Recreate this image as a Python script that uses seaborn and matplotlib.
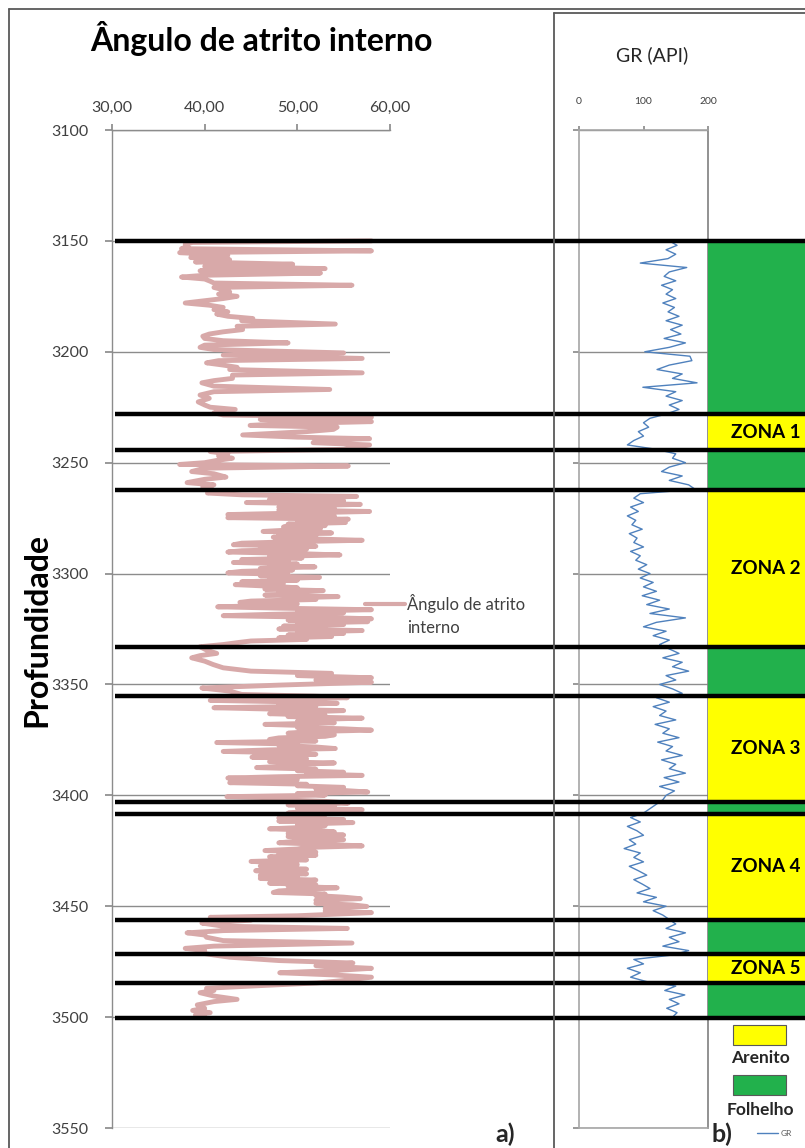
import numpy as np
import pandas as pd
import matplotlib.pyplot as plt
from matplotlib.lines import Line2D
from matplotlib.patches import Rectangle
import seaborn as sns

sns.set_theme(style="white")
plt.rcParams['font.family'] = ['Lato', 'DejaVu Sans']

# ---- data: internal friction angle log (depth in m, angle in degrees) ----
angle_depth = [
    3150.0, 3150.7, 3151.5, 3152.5, 3153.5, 3154.5, 3155.3, 3156.5, 3157.5, 3158.5,
    3159.5, 3160.5, 3161.5, 3162.5, 3163.5, 3164.5, 3165.5, 3166.3, 3167.2, 3168.2,
    3169.0, 3170.0, 3171.0, 3172.0, 3173.0, 3174.0, 3175.0, 3176.0, 3177.0, 3178.0,
    3179.0, 3180.0, 3181.0, 3182.0, 3183.0, 3184.0, 3185.0, 3186.0, 3187.5, 3188.5,
    3190.0, 3191.0, 3192.0, 3193.0, 3194.0, 3195.0, 3196.0, 3197.0, 3198.0, 3199.0,
    3200.5, 3201.5, 3203.0, 3204.0, 3205.0, 3206.0, 3207.0, 3208.0, 3209.5, 3210.5,
    3212.0, 3213.0, 3214.0, 3215.5, 3217.0, 3218.0, 3219.5, 3221.0, 3222.6, 3224.0,
    3225.0, 3226.0, 3227.5, 3228.5, 3229.5, 3230.5, 3231.5, 3232.5, 3233.2, 3234.0,
    3235.0, 3236.0, 3237.5, 3238.5, 3239.2, 3240.0, 3241.0, 3242.0, 3243.0, 3244.0,
    3245.0, 3246.0, 3247.0, 3248.0, 3249.0, 3250.0, 3250.8, 3251.5, 3252.5, 3254.0,
    3255.0, 3256.5, 3257.5, 3259.0, 3260.0, 3261.0, 3262.5, 3263.7,
    # zone 2
    3264.5, 3265.2, 3265.8, 3266.5, 3267.2, 3268.0, 3268.8, 3269.4, 3270.0, 3270.7,
    3271.3, 3272.0, 3272.7, 3273.4, 3274.1, 3274.8, 3275.5, 3276.2, 3277.0, 3277.7,
    3278.4, 3279.0, 3279.7, 3280.4, 3281.0, 3281.7, 3282.4, 3283.0, 3283.6, 3284.3,
    3285.0, 3285.6, 3286.3, 3287.0, 3287.7, 3288.4, 3289.0, 3289.7, 3290.3, 3291.0,
    3291.6, 3292.3, 3293.0, 3293.7, 3294.4, 3295.0, 3295.7, 3296.4, 3297.0, 3297.7,
    3298.4, 3299.0, 3299.7, 3300.4, 3301.0, 3301.7, 3302.4, 3303.0, 3303.7, 3304.4,
    3305.0, 3305.7, 3306.4, 3307.0, 3307.7, 3308.4, 3309.0, 3309.7, 3310.4, 3311.0,
    3311.7, 3312.4, 3313.0, 3313.7, 3314.4, 3315.0, 3315.6, 3316.3, 3317.0, 3317.7,
    3318.4, 3319.0, 3319.7, 3320.4, 3321.0, 3321.7, 3322.4, 3323.0, 3323.7, 3324.4,
    3325.0, 3325.7, 3326.4, 3327.0, 3327.7, 3328.4, 3329.0, 3329.7, 3330.4, 3331.0,
    3332.0,
    3333.0, 3334.5, 3336.0, 3337.0, 3338.0, 3339.5, 3341.0, 3342.5, 3344.0, 3345.0,
    3346.0, 3347.0, 3348.0, 3349.0, 3350.3, 3351.6, 3353.0,
    # zone 3
    3354.5, 3355.3, 3356.0, 3356.6, 3357.2, 3357.9, 3358.5, 3359.2, 3359.8, 3360.5,
    3361.2, 3361.8, 3362.5, 3363.2, 3363.9, 3364.5, 3365.2, 3365.9, 3366.6, 3367.3,
    3368.0, 3368.7, 3369.4, 3370.0, 3370.6, 3371.3, 3372.0, 3372.7, 3373.4, 3374.1,
    3374.8, 3375.5, 3376.2, 3376.9, 3377.5, 3378.2, 3378.9, 3379.5, 3380.2, 3380.9,
    3381.5, 3382.2, 3382.8, 3383.5, 3384.2, 3384.8, 3385.4, 3386.1, 3386.8, 3387.5,
    3388.2, 3388.9, 3389.6, 3390.3, 3391.0, 3391.6, 3392.2, 3392.9, 3393.6, 3394.3,
    3395.0, 3395.7, 3396.4, 3397.1, 3397.8, 3398.5, 3399.2, 3399.9, 3400.6, 3401.3,
    3402.0, 3402.7, 3403.5, 3404.3, 3405.0, 3405.8, 3406.5, 3407.2, 3408.0,
    # zone 4
    3408.7, 3409.5, 3410.2, 3410.9, 3411.6, 3412.3, 3413.0, 3413.7, 3414.4, 3415.1,
    3415.8, 3416.5, 3417.2, 3417.9, 3418.6, 3419.3, 3420.0, 3420.7, 3421.4, 3422.1,
    3422.8, 3423.5, 3424.2, 3424.9, 3425.6, 3426.3, 3427.0, 3427.7, 3428.4, 3429.1,
    3429.8, 3430.5, 3431.2, 3431.9, 3432.6, 3433.3, 3434.0, 3434.7, 3435.4, 3436.1,
    3436.8, 3437.5, 3438.2, 3438.9, 3439.6, 3440.3, 3441.0, 3441.7, 3442.4, 3443.1,
    3443.8, 3444.5, 3445.2, 3445.9, 3446.6, 3447.3, 3448.0, 3448.7, 3449.4, 3450.1,
    3450.8, 3451.5, 3452.2, 3452.9, 3453.6, 3454.3, 3455.0,
    3456.3, 3457.6, 3459.0, 3460.0, 3461.0, 3462.0, 3463.0, 3464.0, 3465.5, 3466.6,
    3468.0, 3469.0, 3470.0, 3471.0, 3472.0, 3473.0, 3474.5, 3475.6, 3476.8, 3478.0,
    3479.0, 3480.0, 3481.0, 3482.0, 3483.5, 3484.6, 3486.0, 3487.0, 3488.0, 3489.0,
    3490.5, 3492.0, 3493.0, 3494.5, 3496.0, 3497.0, 3498.0, 3499.0, 3500.0,
]
angle_vals = [
    58.0, 38.7, 37.9, 38.2, 37.5, 58.0, 37.3, 42.5, 38.5, 42.7,
    39.0, 49.5, 40.0, 53.0, 39.5, 52.5, 40.0, 37.5, 40.0, 40.6,
    41.0, 55.9, 41.0, 42.0, 42.7, 41.5, 43.5, 42.0, 40.0, 37.9,
    40.5, 42.0, 41.0, 42.5, 41.3, 42.5, 45.2, 44.0, 54.1, 43.5,
    44.1, 42.0, 40.5, 39.8, 40.0, 42.0, 49.0, 40.0, 39.5, 41.0,
    55.0, 42.0, 57.0, 41.5, 40.2, 42.0, 43.5, 42.7, 57.0, 43.0,
    43.0, 41.0, 39.7, 41.0, 53.5, 41.0, 39.5, 40.5, 39.3, 40.0,
    40.6, 43.3, 41.0, 42.0, 58.0, 46.0, 58.0, 48.0, 44.9, 54.3,
    53.9, 51.0, 44.1, 50.0, 57.8, 52.0, 51.7, 57.8, 56.4, 55.0,
    40.6, 42.5, 41.5, 43.0, 41.3, 40.0, 37.3, 55.5, 40.0, 38.6,
    41.0, 42.3, 40.0, 38.1, 41.0, 39.8, 41.0, 40.3,
    # zone 2
    44.0, 56.4, 52.0, 47.0, 55.0, 44.5, 56.8, 51.0, 48.0, 54.0,
    48.0, 57.8, 50.0, 42.5, 54.0, 42.5, 55.5, 50.0, 55.2, 49.0,
    53.0, 48.5, 52.5, 49.0, 46.3, 53.7, 48.0, 52.0, 47.4, 51.0,
    57.0, 50.0, 44.0, 43.1, 52.0, 46.0, 51.0, 44.0, 42.5, 50.0,
    54.6, 47.0, 50.5, 44.0, 49.0, 43.1, 50.0, 47.0, 51.9, 46.0,
    49.5, 44.0, 42.5, 49.0, 46.0, 52.4, 47.0, 50.0, 44.0, 48.5,
    43.3, 47.0, 50.0, 46.5, 52.8, 48.0, 51.0, 46.5, 54.4, 49.0,
    52.0, 45.0, 43.8, 50.0, 47.0, 41.4, 48.0, 58.0, 50.0, 55.0,
    47.0, 42.0, 52.0, 58.0, 49.0, 57.6, 50.0, 55.0, 48.5, 53.0,
    48.0, 57.0, 50.0, 55.0, 49.0, 53.7, 48.0, 51.0, 45.0, 43.8,
    42.0,
    39.5, 40.2, 41.3, 39.5, 38.6, 40.0, 40.9, 42.0, 45.0, 53.7,
    50.0, 58.0, 52.0, 58.0, 48.0, 39.7, 42.7,
    # zone 3
    44.0, 52.0, 55.4, 46.0, 40.6, 50.0, 54.3, 48.0, 52.0, 41.0,
    48.0, 55.0, 50.0, 47.0, 53.0, 49.0, 57.0, 51.0, 50.0, 54.0,
    46.5, 52.0, 50.0, 55.0, 58.0, 51.0, 49.0, 54.0, 53.0, 48.0,
    47.0, 52.0, 41.3, 50.0, 48.0, 52.0, 54.1, 47.0, 42.0, 50.0,
    52.0, 48.0, 45.1, 51.0, 50.0, 47.0, 54.0, 50.0, 49.0, 45.6,
    52.0, 50.0, 55.0, 51.0, 57.0, 48.0, 42.5, 50.0, 48.0, 42.7,
    51.0, 50.0, 55.0, 52.0, 55.0, 57.6, 50.0, 53.0, 42.4, 49.0,
    48.0, 53.0, 55.5, 49.0, 54.0, 50.0, 57.0, 51.0, 49.0,
    # zone 4
    53.0, 52.0, 48.0, 55.0, 48.0, 56.0, 50.0, 53.0, 51.0, 47.0,
    52.0, 54.0, 49.0, 55.0, 49.0, 53.0, 55.0, 50.0, 48.0, 53.0,
    57.0, 51.0, 50.0, 46.5, 52.0, 48.0, 52.0, 47.0, 48.0, 51.0,
    45.0, 49.0, 50.0, 46.0, 47.0, 51.0, 45.5, 49.0, 51.0, 46.0,
    50.0, 46.0, 52.0, 50.0, 47.0, 52.0, 49.0, 54.3, 51.0, 48.0,
    47.4, 53.0, 52.0, 55.0, 56.8, 52.0, 54.0, 52.0, 56.0, 57.5,
    53.0, 55.0, 53.0, 58.0, 54.0, 50.0, 40.6,
    45.0, 39.7, 42.0, 55.4, 42.0, 38.1, 40.0, 40.2, 42.0, 55.9,
    41.0, 37.9, 40.0, 39.5, 41.0, 42.7, 48.0, 56.0, 52.0, 58.0,
    54.0, 48.1, 54.0, 58.0, 55.0, 52.1, 45.0, 40.2, 41.0, 39.5,
    41.0, 43.5, 41.0, 39.2, 40.0, 38.7, 40.6, 39.0, 40.0,
]

# ---- data: gamma ray log, one reading every 2 m from 3150 to 3500 ----
gr_depth = np.arange(3150, 3501, 2)
gr_vals = [
    140, 152, 135, 150, 138, 95, 167, 140, 132, 150,
    128, 145, 135, 150, 130, 148, 138, 155, 135, 160,
    142, 158, 132, 165, 140, 102, 172, 175, 140, 121,
    160, 145, 183, 99, 150, 135, 160, 140, 155, 136,
    110, 100, 108, 92, 100, 85, 75, 120,
    150, 145, 165, 140, 128, 160, 140, 170, 180,
    95, 85, 100, 80, 92, 75, 88, 82, 98, 78,
    90, 85, 100, 80, 95, 88, 105, 92, 110, 95,
    115, 100, 120, 98, 125, 105, 140, 110, 165, 120,
    100, 135, 115, 140, 125,
    140, 155, 130, 160, 145, 170, 135, 150, 125, 145, 160,
    120, 140, 115, 135, 125, 150, 118, 140, 130, 155, 122, 145,
    135, 160, 128, 150, 140, 165, 132, 155, 125, 148, 135, 130,
    120, 110, 100,
    80, 95, 75, 90, 100, 78, 88, 70, 95, 85, 100, 78,
    92, 105, 85, 98, 110, 90, 120, 100, 135, 115, 130, 140,
    150, 135, 165, 140, 155, 130, 170, 145,
    85, 100, 75, 95, 80, 105,
    150, 133, 164, 140, 155, 136, 152, 145,
]

# ---- data: zones / lithology ----
zone_top = [3150, 3228, 3244.5, 3262.5, 3333, 3355, 3403, 3408.5, 3456, 3471.5, 3484.5]
zone_base = [3228, 3244.5, 3262.5, 3333, 3355, 3403, 3408.5, 3456, 3471.5, 3484.5, 3500.5]
zone_lith = ["Folhelho", "Arenito", "Folhelho", "Arenito", "Folhelho", "Arenito",
             "Folhelho", "Arenito", "Folhelho", "Arenito", "Folhelho"]
zone_names = ["", "ZONA 1", "", "ZONA 2", "", "ZONA 3", "", "ZONA 4", "", "ZONA 5", ""]
boundaries = [3150, 3228, 3244.5, 3262.5, 3333, 3355, 3403, 3408.5, 3456, 3471.5, 3484.5, 3500.5]

depth_ticks = [3100, 3150, 3200, 3250, 3300, 3350, 3400, 3450, 3500, 3550]
angle_ticks = [30, 40, 50, 60]
angle_ticklabels = ["30,00", "40,00", "50,00", "60,00"]
gr_ticks = [0, 100, 200]
gr_ticklabels = ["0", "100", "200"]

lith_colors = {"Arenito": "#FFFF00", "Folhelho": "#22B14C"}
PINK = "#D8A9A9"
BLUE = "#4F81BD"
GRID = "#8C8C8C"
TXT = "#404040"

W, H = 805, 1148
fig = plt.figure(figsize=(W / 100, H / 100), dpi=100)


def fx(px):
    return px / W


def fy(py):
    return 1 - py / H


ax_top, ax_bot = 130, 1128
ax_h = (ax_bot - ax_top) / H

# --- a) friction angle track ---
ax1 = fig.add_axes([fx(112), fy(ax_bot), 278 / W, ax_h])
df_a = pd.DataFrame({"depth": angle_depth, "angle": angle_vals})
sns.lineplot(data=df_a, x="angle", y="depth", orient="y", sort=False, ax=ax1,
             color=PINK, lw=3.5, legend=False, zorder=3)
ax1.set_xlim(30, 60)
ax1.set_ylim(3550, 3100)
ax1.xaxis.tick_top()
ax1.set_xticks(angle_ticks)
ax1.set_xticklabels(angle_ticklabels, fontsize=11.5, color=TXT)
ax1.set_yticks(depth_ticks)
ax1.set_yticklabels([str(d) for d in depth_ticks], fontsize=11.5, color=TXT)
ax1.tick_params(axis="x", which="both", top=True, direction="out", length=4,
                color=GRID, pad=7)
ax1.tick_params(axis="y", left=True, direction="out", length=5, color=GRID, pad=12)
ax1.yaxis.grid(True, color=GRID, lw=1)
ax1.xaxis.grid(False)
ax1.set_xlabel("")
ax1.set_ylabel("")
for s in ["right", "bottom"]:
    ax1.spines[s].set_visible(False)
for s in ["left", "top"]:
    ax1.spines[s].set_color(GRID)
    ax1.spines[s].set_linewidth(1)

# series key for the friction angle curve
fig.add_artist(Line2D([fx(365), fx(405)], [fy(604), fy(604)], color=PINK, lw=3))
fig.text(fx(407), fy(594), "Ângulo de atrito\ninterno", fontsize=12, color=TXT,
         ha="left", va="top", linespacing=1.55)

# --- b) GR track ---
ax2 = fig.add_axes([fx(579), fy(ax_bot), 129 / W, ax_h])
df_g = pd.DataFrame({"depth": gr_depth, "gr": gr_vals})
sns.lineplot(data=df_g, x="gr", y="depth", orient="y", sort=False, ax=ax2,
             color=BLUE, lw=1.0, zorder=3)
ax2.set_xlim(0, 200)
ax2.set_ylim(3550, 3100)
ax2.xaxis.tick_top()
ax2.set_xticks(gr_ticks)
ax2.set_xticklabels(gr_ticklabels, fontsize=7.5, color=TXT)
ax2.set_yticks(depth_ticks)
ax2.set_yticklabels([])
ax2.tick_params(axis="x", top=True, direction="out", length=3, color=GRID, pad=14)
ax2.tick_params(axis="y", left=True, direction="out", length=4, color=GRID)
ax2.yaxis.grid(True, color=GRID, lw=1)
ax2.xaxis.grid(False)
ax2.set_xlabel("")
ax2.set_ylabel("")
for s in ax2.spines.values():
    s.set_color("#A6A6A6")
    s.set_linewidth(1.2)
ax2.spines["right"].set_color("#7F7F7F")

# --- lithology column ---
ax3 = fig.add_axes([fx(708), fy(ax_bot), (W - 708) / W, ax_h])
ax3.set_xlim(0, 1)
ax3.set_ylim(3550, 3100)
for top, base, lith, name in zip(zone_top, zone_base, zone_lith, zone_names):
    ax3.barh(y=(top + base) / 2, width=1, height=base - top, left=0,
             color=lith_colors[lith], edgecolor="none")
    if name:
        ax3.text(0.24, (top + base) / 2, name, fontsize=13.5, fontweight="bold",
                 color="black", ha="left", va="center")
ax3.axis("off")

# --- black zone boundaries over all tracks ---
ax4 = fig.add_axes([fx(112), fy(ax_bot), (W - 112) / W, ax_h], facecolor="none")
ax4.set_xlim(0, 1)
ax4.set_ylim(3550, 3100)
ax4.hlines(boundaries, 0.004, 1.0, color="black", lw=3.2)
ax4.axis("off")

# --- panel frames ---
for xs, ys in [((9, 9), (9, H)), ((9, W), (9, 9)), ((554, 554), (13, H)), ((554, W), (13, 13))]:
    fig.add_artist(Line2D([fx(xs[0]), fx(xs[1])], [fy(ys[0]), fy(ys[1])],
                          color="#595959", lw=1.3))

# --- texts ---
fig.text(fx(90), fy(38), "Ângulo de atrito interno", fontsize=23, fontweight="bold",
         ha="left", va="center", color="black")
fig.text(fx(37), fy(630), "Profundidade", fontsize=23, fontweight="bold",
         rotation=90, ha="center", va="center", color="black")
fig.text(fx(652), fy(55), "GR (API)", fontsize=14, ha="center", va="center", color="#262626")
fig.text(fx(505), fy(1134), "a)", fontsize=18, fontweight="bold", ha="center", va="center")
fig.text(fx(722), fy(1134), "b)", fontsize=18, fontweight="bold", ha="center", va="center")

# lithology key
for lith, ytop, ylab in [("Arenito", 1025, 1058), ("Folhelho", 1075, 1110)]:
    fig.add_artist(Rectangle((fx(733), fy(ytop + 20)), 53 / W, 20 / H,
                             facecolor=lith_colors[lith], edgecolor="#595959", lw=0.8))
    fig.text(fx(760), fy(ylab), lith, fontsize=12.5, fontweight="bold",
             ha="center", va="center", color="#262626")

# GR legend
fig.add_artist(Line2D([fx(757), fx(778)], [fy(1133), fy(1133)], color=BLUE, lw=1))
fig.text(fx(781), fy(1133), "GR", fontsize=6, color="#595959", ha="left", va="center")

fig.savefig("out.png", dpi=100)
